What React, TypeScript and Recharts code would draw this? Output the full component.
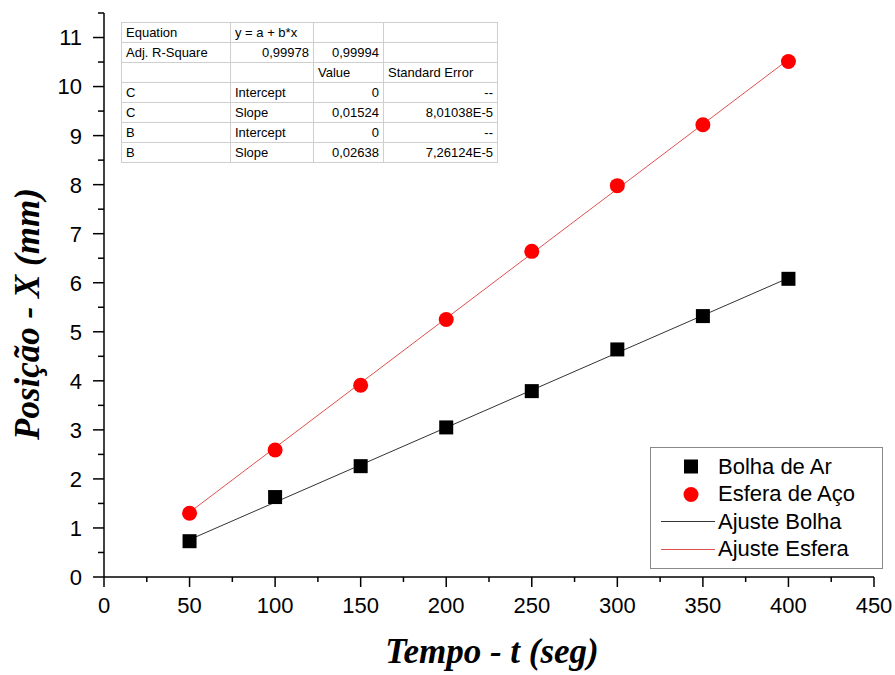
import React from 'react';
import { ScatterChart, Scatter, XAxis, YAxis } from 'recharts';

const tempo = [50, 100, 150, 200, 250, 300, 350, 400];
const bolhaDeAr = [0.73, 1.63, 2.26, 3.05, 3.79, 4.64, 5.32, 6.08];
const esferaDeAco = [1.3, 2.59, 3.91, 5.25, 6.64, 7.98, 9.22, 10.51];
const fitTempo = [50, 400];
const ajusteBolha = [0.762, 6.096];
const ajusteEsfera = [1.319, 10.552];

const xTicks = [0, 25, 50, 75, 100, 125, 150, 175, 200, 225, 250, 275, 300, 325, 350, 375, 400, 425, 450];
const yTicks = [0, 0.5, 1, 1.5, 2, 2.5, 3, 3.5, 4, 4.5, 5, 5.5, 6, 6.5, 7, 7.5, 8, 8.5, 9, 9.5, 10, 10.5, 11, 11.5];

const tableRows = [
  ['Equation', 'y = a + b*x', '', ''],
  ['Adj. R-Square', '0,99978', '0,99994', ''],
  ['', '', 'Value', 'Standard Error'],
  ['C', 'Intercept', '0', '--'],
  ['C', 'Slope', '0,01524', '8,01038E-5'],
  ['B', 'Intercept', '0', '--'],
  ['B', 'Slope', '0,02638', '7,26124E-5'],
];
const tableAlign = [
  ['left', 'left', 'left', 'left'],
  ['left', 'right', 'right', 'left'],
  ['left', 'left', 'left', 'left'],
  ['left', 'left', 'right', 'right'],
  ['left', 'left', 'right', 'right'],
  ['left', 'left', 'right', 'right'],
  ['left', 'left', 'right', 'right'],
];

const legendItems = ['Bolha de Ar', 'Esfera de Aço', 'Ajuste Bolha', 'Ajuste Esfera'];

const bolhaData = tempo.map((x, i) => ({ x, y: bolhaDeAr[i] }));
const esferaData = tempo.map((x, i) => ({ x, y: esferaDeAco[i] }));
const fitBolhaData = fitTempo.map((x, i) => ({ x, y: ajusteBolha[i] }));
const fitEsferaData = fitTempo.map((x, i) => ({ x, y: ajusteEsfera[i] }));

const SANS = "'Liberation Sans', Arial, sans-serif";
const SERIF = "'Liberation Serif', 'Times New Roman', serif";

const XTick = (props: any) => {
  const { x, y, payload } = props;
  const v = payload.value;
  const major = v % 50 === 0;
  return (
    <g>
      <line x1={x} x2={x} y1={y} y2={y + (major ? 10 : 5)} stroke="#000" strokeWidth={1.5} />
      {major && (
        <text x={x} y={y + 36} textAnchor="middle" fontSize={22} fontFamily={SANS} fill="#000">
          {v}
        </text>
      )}
    </g>
  );
};

const YTick = (props: any) => {
  const { x, y, payload } = props;
  const v = payload.value;
  const major = Number.isInteger(v);
  return (
    <g>
      <line x1={x} x2={x - (major ? 11 : 6)} y1={y} y2={y} stroke="#000" strokeWidth={1.5} />
      {major && (
        <text x={x - 22} y={y} dy="0.36em" textAnchor="end" fontSize={22} fontFamily={SANS} fill="#000">
          {v}
        </text>
      )}
    </g>
  );
};

const Square = (p: any) => <rect x={p.cx - 7} y={p.cy - 7} width={14} height={14} fill="#000" />;
const Dot = (p: any) => <circle cx={p.cx} cy={p.cy} r={7.5} fill="#ff0000" />;
const NoShape = () => <g />;

export default function App() {
  return (
    <div style={{ position: 'absolute', left: 0, top: 0, width: 895, height: 675, background: '#fff' }}>
      <ScatterChart width={895} height={675} margin={{ top: 13, right: 21, bottom: 0, left: 0 }}>
        <XAxis
          type="number"
          dataKey="x"
          domain={[0, 450]}
          ticks={xTicks}
          interval={0}
          tick={<XTick />}
          tickLine={false}
          tickSize={0}
          tickMargin={0}
          height={98}
          axisLine={{ stroke: '#000', strokeWidth: 1.5 }}
          label={(lp: any) => (
            <text x={492} y={663} textAnchor="middle" fontSize={35} fontWeight="bold" fontStyle="italic" fontFamily={SERIF} fill="#000">
              Tempo - t (seg)
            </text>
          )}
        />
        <YAxis
          type="number"
          dataKey="y"
          domain={[0, 11.5]}
          ticks={yTicks}
          interval={0}
          tick={<YTick />}
          tickLine={false}
          tickSize={0}
          tickMargin={0}
          width={104}
          axisLine={{ stroke: '#000', strokeWidth: 1.5 }}
          label={(lp: any) => (
            <text x={39} y={314} transform="rotate(-90 39 314)" textAnchor="middle" fontSize={35} fontWeight="bold" fontStyle="italic" fontFamily={SERIF} fill="#000">
              Posição - X (mm)
            </text>
          )}
        />
        <Scatter data={fitBolhaData} line={{ stroke: '#333', strokeWidth: 1 }} shape={<NoShape />} isAnimationActive={false} />
        <Scatter data={fitEsferaData} line={{ stroke: '#e05050', strokeWidth: 1 }} shape={<NoShape />} isAnimationActive={false} />
        <Scatter data={bolhaData} shape={<Square />} isAnimationActive={false} />
        <Scatter data={esferaData} shape={<Dot />} isAnimationActive={false} />
      </ScatterChart>

      <table
        style={{
          position: 'absolute',
          left: 121,
          top: 22,
          borderCollapse: 'collapse',
          fontFamily: SANS,
          fontSize: 13,
          color: '#000',
          border: '1px solid #888',
          background: '#fff',
          tableLayout: 'fixed',
          width: 376,
        }}
      >
        <colgroup>
          <col style={{ width: 109 }} />
          <col style={{ width: 83 }} />
          <col style={{ width: 70 }} />
          <col style={{ width: 114 }} />
        </colgroup>
        <tbody>
          {tableRows.map((row, r) => (
            <tr key={r} style={{ height: 20 }}>
              {row.map((cell, c) => (
                <td
                  key={c}
                  style={{
                    border: '1px solid #cfcfcf',
                    padding: '0 4px',
                    textAlign: tableAlign[r][c] as any,
                    whiteSpace: 'nowrap',
                    lineHeight: '19px',
                    height: 19,
                    overflow: 'hidden',
                  }}
                >
                  {cell}
                </td>
              ))}
            </tr>
          ))}
        </tbody>
      </table>

      <div
        style={{
          position: 'absolute',
          left: 650,
          top: 447,
          width: 231,
          height: 120,
          border: '1px solid #888',
          background: '#fff',
          fontFamily: SANS,
          fontSize: 22,
          color: '#000',
        }}
      >
        {legendItems.map((name, i) => (
          <div key={name} style={{ position: 'absolute', left: 0, top: 5 + i * 27.5, height: 27, width: 231, display: 'flex', alignItems: 'center' }}>
            <svg width={66} height={27} style={{ flex: 'none' }}>
              {i === 0 && <rect x={33} y={6.5} width={14} height={14} fill="#000" />}
              {i === 1 && <circle cx={40} cy={13.5} r={7.5} fill="#ff0000" />}
              {i === 2 && <line x1={10} x2={64} y1={13.5} y2={13.5} stroke="#333" strokeWidth={1} />}
              {i === 3 && <line x1={10} x2={64} y1={13.5} y2={13.5} stroke="#e05050" strokeWidth={1} />}
            </svg>
            <span style={{ marginLeft: 1, whiteSpace: 'nowrap' }}>{name}</span>
          </div>
        ))}
      </div>
    </div>
  );
}
